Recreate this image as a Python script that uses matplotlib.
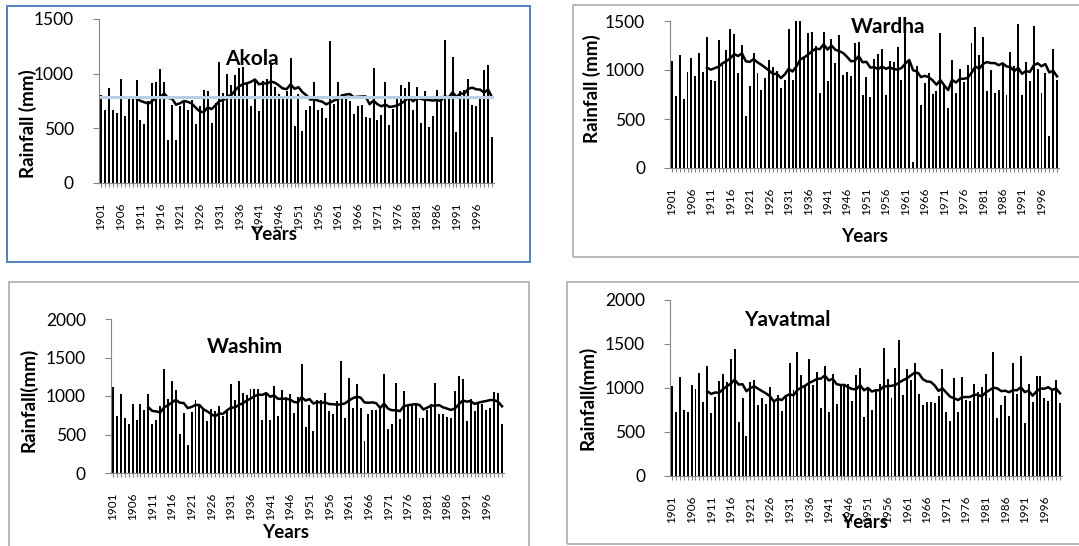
import matplotlib
matplotlib.use("Agg")
import matplotlib.pyplot as plt
from matplotlib.patches import Rectangle
import numpy as np
import pandas as pd

plt.rcParams['font.family'] = ['Lato', 'DejaVu Sans']

years = list(range(1901, 2001))

akola = [805, 670, 870, 670, 640, 955, 615, 795, 775, 940,
         580, 540, 750, 915, 920, 1040, 925, 395, 710, 390,
         705, 750, 670, 760, 540, 700, 850, 845, 550, 735,
         1105, 820, 1000, 900, 985, 1055, 1060, 905, 700, 935,
         660, 935, 950, 1100, 880, 810, 775, 840, 1140, 525,
         810, 480, 665, 700, 925, 665, 690, 595, 1300, 720,
         920, 810, 765, 750, 630, 705, 715, 605, 590, 1050,
         580, 625, 925, 535, 675, 790, 895, 865, 920, 665,
         880, 545, 845, 515, 615, 855, 795, 1310, 780, 1150,
         465, 845, 850, 955, 715, 705, 765, 1030, 1075, 420]

wardha = [1092, 736, 1153, 705, 983, 1125, 939, 1170, 983, 1339,
          898, 892, 1305, 1050, 1203, 1417, 1366, 973, 1254, 532,
          837, 1176, 973, 797, 915, 1102, 1034, 990, 820, 898,
          1417, 898, 1500, 1500, 1136, 1373, 1390, 1250, 763, 1390,
          888, 1312, 1068, 1356, 949, 983, 939, 1271, 1281, 746,
          925, 722, 1115, 1163, 1214, 746, 1095, 1085, 1234, 898,
          1383, 1092, 61, 1040, 644, 871, 966, 756, 790, 1373,
          837, 617, 1102, 770, 1010, 881, 1051, 1271, 1441, 1153,
          1339, 790, 1000, 770, 797, 1068, 746, 1187, 1041, 1468,
          746, 1081, 892, 1448, 1007, 763, 973, 329, 1214, 898]

washim = [1117, 745, 1022, 710, 632, 892, 684, 900, 814, 1030,
          632, 693, 866, 1355, 965, 1190, 1074, 502, 784, 364,
          788, 944, 866, 814, 675, 827, 801, 866, 736, 810,
          1160, 944, 1190, 1043, 1017, 1095, 1095, 1095, 684, 1052,
          684, 1125, 736, 1074, 987, 1022, 784, 987, 1411, 598,
          879, 541, 953, 953, 1043, 805, 762, 931, 1450, 719,
          1238, 849, 1152, 849, 411, 762, 814, 814, 836, 1290,
          576, 641, 1173, 706, 1065, 879, 892, 892, 719, 710,
          823, 892, 1173, 771, 771, 727, 719, 1061, 1264, 1217,
          675, 965, 805, 922, 901, 823, 844, 1052, 1043, 632]

yavatmal = [1026, 730, 1121, 749, 730, 1034, 984, 1167, 844, 1250,
            718, 893, 1083, 1155, 1072, 1330, 1440, 608, 882, 456,
            1072, 1094, 806, 882, 813, 1011, 836, 920, 737, 901,
            1288, 977, 1414, 1148, 1034, 1326, 1034, 1178, 768, 1250,
            730, 1155, 821, 1041, 1045, 1041, 851, 1148, 1231, 673,
            996, 749, 977, 1041, 1452, 1098, 882, 1231, 1547, 920,
            1212, 1091, 1288, 927, 806, 840, 840, 832, 912, 1212,
            722, 623, 1117, 730, 1121, 866, 851, 1045, 958, 1007,
            1163, 889, 1406, 654, 806, 912, 680, 1288, 931, 1364,
            604, 1045, 844, 1136, 1136, 889, 855, 977, 1087, 828]

W, H = 1079, 546
fig = plt.figure(figsize=(W / 100, H / 100), dpi=100)


def fx(x):
    return x / W


def fy(y):
    return 1 - y / H


def panel(vals, name, ymax, box, axrect, title_xy, ylab, ylab_xy, years_xy,
          box_color='#a6a6a6', mean_line=False):
    x0, y0, x1, y1 = box
    fig.patches.append(Rectangle((fx(x0), fy(y1)), fx(x1 - x0), (y1 - y0) / H,
                                 transform=fig.transFigure, fill=False,
                                 edgecolor=box_color, lw=1.4 if mean_line else 1.1))
    l, t, r, b = axrect
    ax = fig.add_axes([fx(l), fy(b), fx(r - l), (b - t) / H])
    pos = np.arange(len(years))
    ax.bar(pos, vals, width=0.5, color='black')
    ma = pd.Series(vals).rolling(10).mean()
    ax.plot(pos, ma, color='black', lw=1.8)
    if mean_line:
        ax.axhline(np.mean(vals), color='#bccde6', lw=2.2)
    ax.set_xlim(-0.5, len(years) - 0.5)
    ax.set_ylim(0, ymax)
    ax.set_yticks(np.arange(0, ymax + 1, 500))
    ax.set_xticks(pos)
    ax.set_xticklabels([str(y) if (y - 1901) % 5 == 0 else '' for y in years],
                       rotation=90, fontsize=8.5)
    ax.tick_params(axis='x', length=3, color='#868686', pad=11)
    ax.tick_params(axis='y', length=4, color='#868686', labelsize=12.5, pad=14)
    for s in ['top', 'right']:
        ax.spines[s].set_visible(False)
    for s in ['left', 'bottom']:
        ax.spines[s].set_color('#868686')
    fig.text(fx(title_xy[0]), fy(title_xy[1]), name, ha='center', va='center',
             fontsize=15, fontweight='bold')
    fig.text(fx(ylab_xy[0]), fy(ylab_xy[1]), ylab, ha='center', va='center',
             rotation=90, fontsize=13.5, fontweight='bold')
    fig.text(fx(years_xy[0]), fy(years_xy[1]), 'Years', ha='center', va='center',
             fontsize=13.5, fontweight='bold')
    return ax


panel(akola, 'Akola', 1500, (7, 6, 530, 262), (99, 19, 494, 183),
      (252, 59), 'Rainfall (mm)', (28, 124), (274, 234),
      box_color='#4f81bd', mean_line=True)
panel(wardha, 'Wardha', 1500, (573, 5, 1085, 257), (670, 21, 1059, 168),
      (888, 27), 'Rainfall (mm)', (592, 89), (865, 237))
panel(washim, 'Washim', 2000, (9, 282, 529, 560), (111, 319, 504, 473),
      (245, 347), 'Rainfall(mm)', (28, 400), (286, 533))
panel(yavatmal, 'Yavatmal', 2000, (567, 282, 1085, 544), (670, 300, 1062, 476),
      (787, 320), 'Rainfall(mm)', (587, 398), (865, 522))

fig.savefig('out.png', dpi=100)
